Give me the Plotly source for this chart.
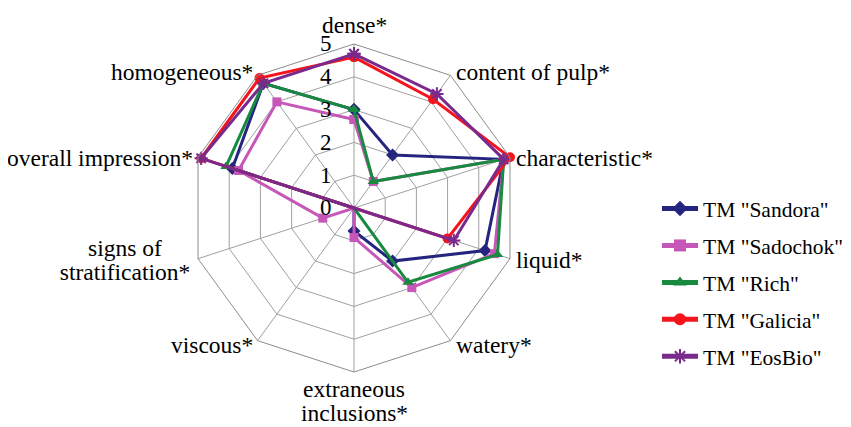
import math
import plotly.graph_objects as go

categories = ["dense*", "content of pulp*", "characteristic*", "liquid*", "watery*",
              "extraneous<br>inclusions*", "viscous*", "signs of<br>stratification*",
              "overall impression*", "homogeneous*"]

series_names = ['TM "Sandora"', 'TM "Sadochok"', 'TM "Rich"', 'TM "Galicia"', 'TM "EosBio"']

sandora  = [3.0, 2.0, 4.8, 4.2, 2.0, 0.7, 0.0, 0.0, 3.9, 4.7]
sadochok = [2.7, 1.0, 4.8, 4.5, 3.0, 0.9, 0.0, 1.0, 3.7, 4.0]
rich     = [3.0, 1.0, 4.8, 4.6, 2.8, 0.0, 0.0, 0.0, 4.1, 4.7]
galicia  = [4.6, 4.1, 5.0, 3.0, 0.0, 0.0, 0.0, 0.0, 4.9, 4.9]
eosbio   = [4.7, 4.3, 4.8, 3.2, 0.0, 0.0, 0.0, 0.0, 4.9, 4.7]

radial_ticks = [0, 1, 2, 3, 4, 5]

colors = ["#25257f", "#c657b8", "#188a3f", "#f5141c", "#7a2a8d"]
symbols = ["diamond", "square", "triangle-up", "circle", "asterisk-open"]
sizes = [10, 9, 10, 10, 11]

FONT = '"Liberation Serif", "Times New Roman", Times, serif'

fig = go.Figure()
for k, (name, vals, c, s, sz) in enumerate(zip(series_names, [sandora, sadochok, rich, galicia, eosbio],
                                              colors, symbols, sizes)):
    fig.add_trace(go.Scatterpolar(
        r=vals + [vals[0]],
        theta=categories + [categories[0]],
        mode="lines+markers",
        name=name,
        legendgroup=f"g{k}",
        line=dict(color=c, width=3),
        marker=dict(symbol=s, size=sz, color=c,
                    line=dict(color=c, width=2 if s.startswith("asterisk") else 0)),
    ))

W, H = 851, 427
OFF = 8  # page body margin of the browser
cx, cy, R = 354 - OFF, 208 - OFF, 164
LINE = 24  # spacing between lines of wrapped labels
LABEL_SIZE = 23.5

annotations = []


def add_text(text, x, y, xa, ya, width=None):
    d = dict(text=text, x=x / W, y=1 - y / H, xref="paper", yref="paper",
             xanchor=xa, yanchor=ya, align="center", showarrow=False,
             font=dict(family=FONT, size=LABEL_SIZE, color="black"))
    if width:
        d["width"] = width
    annotations.append(d)


n = len(categories)
for i, lab in enumerate(categories):
    th = math.radians(i * 360 / n)
    s, c = math.sin(th), math.cos(th)
    vx = cx + R * s
    vy = cy - R * c
    lines = lab.split("<br>")
    if abs(s) < 1e-6:
        if c > 0:
            add_text(lab, vx, vy - 4, "center", "bottom")
        else:
            for j, ln in enumerate(lines):
                add_text(ln, vx, vy + 17 + j * LINE, "center", "middle")
        continue
    xa = "left" if s > 0 else "right"
    px = vx + (4 if s > 0 else -3)
    if c > 0.5:
        dy = -3
    elif c < -0.5:
        dy = 4
    else:
        dy = 1
    py = vy + dy
    if len(lines) == 1:
        add_text(lab, px, py, xa, "middle")
    else:
        top = py - (len(lines) - 1) * LINE / 2
        for j, ln in enumerate(lines):
            add_text(ln, px, top + j * LINE, xa, "middle", width=136)

fig.update_layout(
    width=W, height=H,
    margin=dict(l=0, r=0, t=0, b=0),
    paper_bgcolor="white",
    plot_bgcolor="white",
    font=dict(family=FONT, size=22, color="black"),
    annotations=annotations,
    polar=dict(
        domain=dict(x=[(cx - R) / W, (cx + R) / W], y=[1 - (cy + R) / H, 1 - (cy - R) / H]),
        bgcolor="white",
        gridshape="linear",
        angularaxis=dict(
            rotation=90, direction="clockwise",
            showline=True, linecolor="#8c8c8c", linewidth=1,
            gridcolor="#a0a0a0", gridwidth=1,
            ticks="", showticklabels=False,
        ),
        radialaxis=dict(
            range=[0, 5], tickvals=radial_ticks, ticktext=[str(t) for t in radial_ticks],
            angle=90, tickangle=90, side="counterclockwise",
            showline=False, gridcolor="#a0a0a0", gridwidth=1,
            ticks="outside", ticklen=14, tickcolor="rgba(0,0,0,0)",
            tickfont=dict(family=FONT, size=23),
        ),
    ),
    legend=dict(
        x=649 / W, y=1 - 180 / H, xanchor="left", yanchor="top",
        font=dict(family=FONT, size=21.5), tracegroupgap=6, itemsizing="constant",
        itemwidth=36,
        bgcolor="rgba(0,0,0,0)",
    ),
)

fig.write_html("out.html")
